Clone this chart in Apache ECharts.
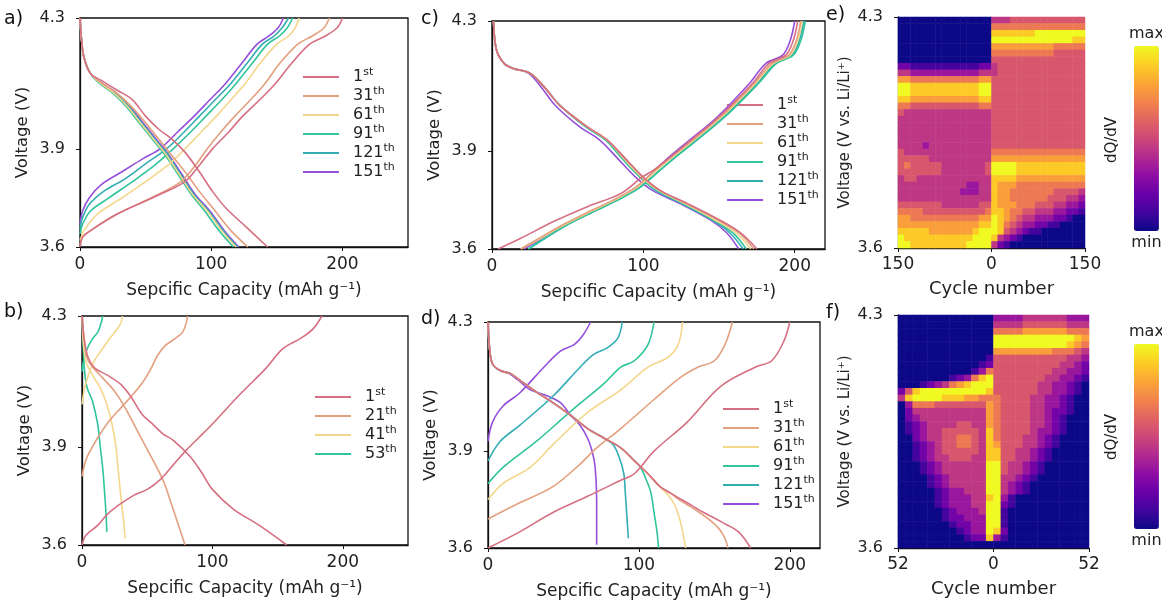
<!DOCTYPE html>
<html>
<head>
<meta charset="utf-8">
<script src="https://cdn.jsdelivr.net/npm/echarts@6/dist/echarts.min.js"></script>
<style>
html,body{margin:0;padding:0;background:#fff;}
#chart{width:1162px;height:601px;}
</style>
</head>
<body>
<div id="chart"></div>
<script>
const FONT = 'DejaVu Sans';

// ---------- colours per cycle ----------
const cycleColors = {
  '1st': '#d66f82', '21th': '#e3a07f', '31th': '#e3a07f',
  '41th': '#f4d68c', '61th': '#f4d68c',
  '53th': '#2fc49c', '91th': '#2fc49c',
  '121th': '#33adb4', '151th': '#954fda'
};

// ---------- panel a : [capacity, voltage] ----------
const aNames = ['1st','31th','61th','91th','121th','151th'];
const aCharge1   = [[0,3.6],[2,3.63],[8,3.65],[28,3.7],[55,3.75],[80,3.8],[91,3.85],[101,3.9],[113,3.95],[124,4.0],[137,4.05],[149,4.1],[161,4.16],[175,4.22],[187,4.245],[196,4.27],[200,4.3]];
const aCharge31  = [[0,3.605],[2,3.63],[8,3.65],[28,3.7],[54,3.75],[77,3.8],[88,3.85],[97,3.9],[107,3.95],[118,4.0],[130,4.05],[141,4.1],[152,4.16],[166,4.22],[177,4.245],[186,4.27],[190,4.3]];
const aCharge61  = [[0,3.62],[3,3.65],[13,3.7],[32,3.75],[50,3.8],[67,3.85],[80,3.9],[92,3.95],[104,4.0],[115,4.05],[126,4.1],[137,4.16],[150,4.22],[159,4.245],[164,4.27],[167,4.3]];
const aCharge91  = [[0,3.64],[2,3.67],[8,3.71],[22,3.75],[40,3.8],[57,3.85],[71,3.9],[84,3.95],[96,4.0],[108,4.05],[119,4.1],[131,4.16],[143,4.22],[152,4.245],[158,4.27],[162,4.3]];
const aCharge121 = [[0,3.655],[2,3.69],[7,3.73],[18,3.77],[35,3.81],[52,3.86],[66,3.9],[79,3.95],[91,4.0],[103,4.05],[115,4.1],[127,4.16],[139,4.22],[148,4.245],[154,4.27],[159,4.3]];
const aCharge151 = [[0,3.67],[2,3.71],[7,3.75],[16,3.79],[32,3.83],[48,3.87],[61,3.9],[74,3.95],[87,4.0],[99,4.05],[111,4.1],[123,4.16],[135,4.22],[144,4.245],[151,4.27],[155,4.3]];
const aDis1   = [[0,4.3],[1,4.24],[3,4.18],[8,4.13],[16,4.11],[28,4.08],[40,4.05],[50,4.0],[60,3.96],[70,3.93],[80,3.89],[91,3.83],[101,3.77],[111,3.72],[127,3.66],[143,3.6]];
const aDis31  = [[0,4.3],[1,4.24],[3,4.18],[8,4.13],[17,4.1],[28,4.07],[39,4.03],[50,3.98],[60,3.93],[70,3.88],[80,3.83],[91,3.77],[103,3.71],[115,3.65],[128,3.6]];
const aDis61  = [[0,4.3],[1,4.24],[3,4.18],[8,4.13],[16,4.1],[26,4.07],[36,4.03],[46,3.98],[56,3.93],[66,3.88],[76,3.82],[86,3.76],[97,3.71],[108,3.65],[119,3.6]];
const aDis91  = [[0,4.3],[1,4.24],[3,4.18],[8,4.13],[15,4.1],[25,4.07],[35,4.03],[45,3.98],[55,3.93],[65,3.88],[75,3.82],[85,3.76],[95,3.71],[106,3.65],[117,3.6]];
const aDis121 = [[0,4.3],[1,4.24],[3,4.18],[8,4.13],[16,4.1],[27,4.07],[37,4.03],[47,3.98],[57,3.93],[67,3.88],[77,3.82],[87,3.76],[98,3.71],[109,3.65],[120,3.6]];
const aDis151 = [[0,4.3],[1,4.24],[3,4.18],[8,4.13],[17,4.1],[28,4.07],[38,4.03],[48,3.98],[58,3.93],[68,3.88],[78,3.82],[88,3.76],[99,3.71],[110,3.65],[121,3.6]];

// ---------- panel b ----------
const bNames = ['1st','21th','41th','53th'];
const bCharge1  = [[0,3.6],[3,3.63],[12,3.66],[21,3.7],[39,3.75],[50,3.77],[60,3.8],[70,3.845],[80,3.89],[90,3.93],[100,3.97],[121,4.06],[141,4.14],[154,4.2],[167,4.23],[177,4.26],[184,4.3]];
const bCharge21 = [[0,3.81],[3,3.86],[8,3.9],[14,3.94],[21,3.98],[30,4.02],[39,4.06],[47,4.1],[53,4.14],[58,4.18],[64,4.21],[71,4.23],[77,4.25],[80,4.28],[81,4.3]];
const bCharge41 = [[0,4.03],[2,4.08],[5,4.12],[9,4.16],[14,4.19],[21,4.23],[27,4.26],[30,4.28],[31,4.3]];
const bCharge53 = [[0,4.13],[1,4.16],[4,4.2],[8,4.23],[12,4.25],[14,4.27],[16,4.3]];
const bDis1  = [[0,4.3],[2,4.22],[5,4.17],[10,4.14],[19,4.12],[30,4.09],[38,4.05],[46,4.0],[54,3.97],[62,3.94],[70,3.92],[83,3.87],[92,3.82],[100,3.77],[116,3.71],[136,3.66],[157,3.6]];
const bDis21 = [[0,4.3],[2,4.22],[4,4.17],[9,4.14],[16,4.11],[25,4.07],[33,4.02],[41,3.96],[49,3.9],[57,3.84],[63,3.79],[69,3.72],[74,3.66],[79,3.6]];
const bDis41 = [[0,4.3],[1,4.22],[3,4.16],[8,4.12],[14,4.08],[19,4.03],[23,3.97],[26,3.9],[28,3.82],[30,3.74],[32,3.67],[33,3.62]];
const bDis53 = [[0,4.3],[1,4.2],[2,4.13],[4,4.08],[8,4.04],[12,3.97],[14,3.9],[16,3.83],[17.5,3.75],[18.5,3.69],[19,3.64]];

// ---------- panel c ----------
const cNames = ['1st','31th','61th','91th','121th','151th'];
const cCharge1   = [[4,3.6],[19,3.633],[41,3.685],[63,3.73],[85,3.77],[99,3.82],[107,3.843],[129,3.925],[150,4.006],[172,4.108],[183,4.17],[194,4.195],[199,4.24],[202,4.3]];
const cCharge31  = [[19,3.6],[30,3.63],[45,3.67],[62,3.71],[80,3.75],[95,3.79],[105,3.83],[115,3.87],[130,3.925],[151,4.006],[173,4.108],[185,4.17],[196,4.195],[201,4.24],[204,4.3]];
const cCharge61  = [[19,3.6],[31,3.63],[46,3.67],[63,3.71],[81,3.75],[96,3.79],[106,3.83],[116,3.87],[131,3.925],[152,4.006],[174,4.108],[186,4.17],[197,4.195],[202,4.24],[205,4.3]];
const cCharge91  = [[24,3.6],[34,3.63],[48,3.67],[65,3.71],[83,3.75],[98,3.79],[108,3.83],[118,3.87],[133,3.925],[154,4.006],[176,4.108],[188,4.17],[199,4.195],[204,4.24],[207,4.3]];
const cCharge121 = [[24,3.6],[34,3.63],[48,3.67],[65,3.71],[83,3.75],[98,3.79],[108,3.83],[118,3.87],[132,3.925],[153,4.006],[175,4.108],[187,4.17],[198,4.195],[203,4.24],[206,4.3]];
const cCharge151 = [[21,3.6],[32,3.63],[46,3.67],[63,3.71],[81,3.75],[96,3.79],[105,3.83],[114,3.87],[128,3.925],[149,4.006],[170,4.108],[181,4.17],[192,4.195],[197,4.24],[200,4.3]];
const cDis1   = [[1,4.3],[3,4.21],[8,4.17],[14,4.154],[25,4.14],[34,4.1],[45,4.04],[63,3.975],[76,3.935],[89,3.873],[100,3.82],[111,3.78],[129,3.74],[150,3.69],[164,3.65],[175,3.6]];
const cDis31  = [[1,4.3],[3,4.21],[8,4.17],[14,4.154],[25,4.14],[34,4.1],[45,4.04],[63,3.975],[76,3.935],[89,3.873],[100,3.82],[111,3.78],[128,3.74],[149,3.69],[163,3.65],[173,3.6]];
const cDis61  = [[1,4.3],[3,4.21],[8,4.17],[14,4.154],[25,4.14],[34,4.1],[45,4.04],[63,3.975],[76,3.935],[88,3.873],[99,3.82],[110,3.78],[127,3.74],[147,3.69],[161,3.65],[171,3.6]];
const cDis91  = [[1,4.3],[3,4.21],[8,4.17],[14,4.154],[25,4.14],[34,4.1],[45,4.04],[62,3.975],[75,3.935],[87,3.873],[98,3.82],[109,3.78],[126,3.74],[146,3.69],[159,3.65],[168,3.6]];
const cDis121 = [[1,4.3],[3,4.21],[8,4.17],[14,4.154],[25,4.14],[34,4.1],[45,4.04],[62,3.975],[75,3.935],[87,3.873],[98,3.82],[108,3.78],[125,3.74],[145,3.69],[157,3.65],[166,3.6]];
const cDis151 = [[1,4.3],[3,4.21],[8,4.17],[14,4.154],[24,4.14],[32,4.1],[42,4.04],[58,3.975],[71,3.935],[84,3.873],[95,3.82],[106,3.78],[124,3.74],[144,3.69],[155,3.65],[163,3.6]];

// ---------- panel d ----------
const dNames = ['1st','31th','61th','91th','121th','151th'];
const dCharge1   = [[0,3.6],[21,3.65],[43,3.71],[66,3.76],[88,3.81],[97,3.83],[110,3.9],[132,3.99],[154,4.1],[177,4.16],[188,4.18],[196,4.24],[200,4.3]];
const dCharge31  = [[0,3.69],[21,3.74],[43,3.79],[61,3.86],[72,3.91],[88,3.97],[110,4.06],[128,4.13],[139,4.16],[150,4.18],[157,4.23],[162,4.3]];
const dCharge61  = [[0,3.75],[10,3.8],[28,3.85],[43,3.92],[66,4.02],[88,4.09],[106,4.16],[119,4.19],[126,4.23],[129,4.3]];
const dCharge91  = [[0,3.8],[10,3.85],[32,3.93],[54,4.02],[77,4.11],[88,4.16],[97,4.18],[106,4.23],[110,4.3]];
const dCharge121 = [[0,3.87],[8,3.93],[21,3.98],[43,4.07],[61,4.16],[70,4.2],[79,4.22],[86,4.25],[89,4.3]];
const dCharge151 = [[0,3.93],[3,3.99],[10,4.04],[21,4.08],[37,4.16],[48,4.21],[57,4.23],[63,4.26],[68,4.3]];
const dDis1   = [[0,4.3],[1,4.22],[3,4.17],[8,4.15],[15,4.14],[21,4.12],[30,4.09],[43,4.05],[55,4.01],[66,3.97],[77,3.94],[88,3.91],[97,3.87],[106,3.83],[114,3.79],[121,3.77],[132,3.74],[143,3.71],[155,3.68],[166,3.65],[174,3.6]];
const dDis31  = [[0,4.3],[1,4.22],[3,4.17],[8,4.15],[15,4.14],[21,4.12],[30,4.09],[43,4.05],[55,4.01],[66,3.97],[77,3.94],[88,3.91],[97,3.87],[106,3.83],[114,3.79],[121,3.77],[128,3.745],[137,3.72],[146,3.69],[153,3.66],[157,3.63],[159,3.6]];
const dDis61  = [[0,4.3],[1,4.22],[3,4.17],[8,4.15],[15,4.14],[21,4.12],[30,4.09],[43,4.05],[55,4.01],[66,3.97],[77,3.94],[88,3.91],[97,3.87],[106,3.83],[114,3.79],[120,3.76],[124,3.73],[127,3.69],[129,3.65],[131,3.6]];
const dDis91  = [[0,4.3],[1,4.22],[3,4.17],[8,4.15],[15,4.14],[21,4.12],[30,4.09],[43,4.05],[55,4.01],[66,3.97],[77,3.94],[88,3.91],[96,3.875],[101,3.85],[105,3.81],[108,3.77],[110,3.71],[112,3.65],[113,3.6]];
const dDis121 = [[0,4.3],[1,4.22],[3,4.17],[8,4.15],[15,4.14],[21,4.12],[30,4.09],[43,4.05],[55,4.01],[66,3.97],[77,3.94],[83,3.92],[87,3.88],[90,3.83],[91,3.77],[92,3.7],[93,3.63]];
const dDis151 = [[0,4.3],[1,4.22],[3,4.17],[8,4.15],[14,4.14],[20,4.12],[28,4.09],[40,4.07],[48,4.05],[55,4.01],[61,3.98],[66,3.94],[69,3.9],[71,3.85],[72,3.75],[72,3.61]];

// ---------- panel e heatmap (dQ/dV, 0=min .. 9=max); rows top(4.3V) -> bottom(3.6V);
// first 15 columns: discharge, cycle 150 -> 0 ; last 15: charge, cycle 0 -> 150
const eRows = [
  '000000000000000'+'444555555555555',
  '000000000000000'+'666666666666666',
  '000000000000000'+'888888899999999',
  '000000000000000'+'999999999999988',
  '000000000000000'+'777777777766666',
  '000000000000000'+'666666666655555',
  '000000000000000'+'555555555555555',
  '221111111111122'+'455555555555555',
  '443333333333344'+'455555555555555',
  '776666666666677'+'555555555555555',
  '998888888888899'+'555555555555555',
  '998888888888899'+'555555555555555',
  '887777777777788'+'555555555555555',
  '665555555555566'+'555555555555555',
  '544444444444444'+'555555555555555',
  '444444444444444'+'555555555555555',
  '444444444444444'+'555555555555555',
  '444444444444444'+'555555555555555',
  '444444444444444'+'555555555555555',
  '444434444444444'+'555555555555555',
  '544444444444444'+'666666666666666',
  '555554444444444'+'777777777777777',
  '565555544444445'+'999988888888888',
  '555555544444445'+'999988888888888',
  '455444444444444'+'888877777777777',
  '444444444443344'+'877766666666666',
  '444444444433344'+'877666666655554',
  '444444444444444'+'877666666555443',
  '555555544444455'+'877766655544332',
  '666655555555556'+'887665544433221',
  '776666666666677'+'987654433322100',
  '777777777777788'+'986543322110000',
  '888887777777899'+'985432110000000',
  '988888888888999'+'843210000000000',
  '998888888889999'+'421000000000000'
];

// ---------- panel f heatmap; first 13 columns: cycle 52 -> 0 ; last 13: 0 -> 52
const fRows = [
  '0000000000000'+'3333444444333',
  '0000000000000'+'4444555555444',
  '0000000000000'+'6666777777666',
  '0000000000000'+'9999999999987',
  '0000000000000'+'9999999999876',
  '0000000000000'+'7777777766654',
  '0000000000001'+'5555555555443',
  '0000000000012'+'5555555554432',
  '0000000000136'+'5555555544332',
  '0000000123689'+'5555555443321',
  '0001234678999'+'5555554433210',
  '2589999999998'+'5555554433210',
  '4899998887766'+'6555544332100',
  '0366655555557'+'6555544332100',
  '0244444444447'+'6555544322100',
  '0234444444447'+'6555544321000',
  '0123444455447'+'6555544321000',
  '0123445555548'+'6555543321000',
  '0023445566548'+'6555443210000',
  '0012345566548'+'7555443210000',
  '0012345555548'+'8554432100000',
  '0012344555448'+'8554432100000',
  '0001234444449'+'9544321000000',
  '0001234444449'+'9544321000000',
  '0000123444449'+'9443210000000',
  '0000123444449'+'9432100000000',
  '0000012334449'+'9432100000000',
  '0000012333448'+'9310000000000',
  '0000012333449'+'9210000000000',
  '0000001233349'+'9100000000000',
  '0000001223339'+'9100000000000',
  '0000000122339'+'9100000000000',
  '0000000012339'+'8200000000000',
  '0000000001228'+'3100000000000',
  '0000000000000'+'0000000000000'
];

const voltTicks = [3.6, 3.9, 4.3];
const voltTicksHeat = [3.6, 4.3];
const capTicks = [0, 100, 200];
const eCycleTicks = [-150, 0, 150];
const fCycleTicks = [-52, 0, 52];
const plasma = ['#0d0887','#41049d','#6a00a8','#8f0da4','#b12a90','#cc4778','#e16462','#f2844b','#fca636','#fcce25','#f0f921'];

// ---------- build ----------
const chart = echarts.init(document.getElementById('chart'));

const grids = [
  {left: 80,  top: 18,  width: 328, height: 229},   // a
  {left: 82,  top: 316, width: 326, height: 229},   // b
  {left: 492, top: 21,  width: 333, height: 228},   // c
  {left: 488, top: 322, width: 332, height: 227},   // d
  {left: 898, top: 17,  width: 187, height: 231},   // e
  {left: 898, top: 315, width: 191, height: 233}    // f
].map((g, i) => Object.assign({
  show: i < 4, borderColor: '#111', borderWidth: 1.3, backgroundColor: 'transparent'
}, g));

const axisText = {fontSize: 16, color: '#222', fontFamily: FONT};
const lineAxisStyle = {show: true, lineStyle: {color: '#111', width: 1.3}};

function capAxis(gi, max) {
  return {
    type: 'value', gridIndex: gi, min: 0, max: max,
    axisLine: lineAxisStyle,
    axisTick: {show: true, length: 4, customValues: capTicks, lineStyle: {color: '#111'}},
    axisLabel: Object.assign({}, axisText, {customValues: capTicks, margin: 9, fontSize: 17}),
    splitLine: {show: false},
    name: 'Sepcific Capacity (mAh g\u207B\u00B9)', nameLocation: 'middle', nameGap: 35,
    nameTextStyle: {fontSize: 17, color: '#222', fontFamily: FONT}
  };
}
function voltAxis(gi) {
  return {
    type: 'value', gridIndex: gi, min: 3.6, max: 4.3,
    axisLine: lineAxisStyle,
    axisTick: {show: true, length: 4, customValues: voltTicks, lineStyle: {color: '#111'}},
    axisLabel: Object.assign({customValues: voltTicks, margin: 15, formatter: v => v.toFixed(1)}, axisText),
    splitLine: {show: false},
    name: 'Voltage (V)', nameLocation: 'middle', nameGap: 49,
    nameTextStyle: {fontSize: 16.5, color: '#222', fontFamily: FONT}
  };
}

const xAxes = [capAxis(0, 250), capAxis(1, 250), capAxis(2, 220), capAxis(3, 220)];
const yAxes = [voltAxis(0), voltAxis(1), voltAxis(2), voltAxis(3)];

function heatAxes(gi, nCols, cycleTicks) {
  const lim = Math.abs(cycleTicks[0]);
  xAxes.push({type: 'category', gridIndex: gi, data: Array.from({length: nCols}, (_, i) => String(i)), show: false});
  xAxes.push({
    type: 'value', gridIndex: gi, min: -lim, max: lim, position: 'bottom',
    axisLine: lineAxisStyle,
    axisTick: {show: true, length: 4, customValues: cycleTicks, lineStyle: {color: '#111'}},
    axisLabel: Object.assign({}, axisText, {customValues: cycleTicks, margin: 8, fontSize: 17, formatter: v => String(Math.abs(v))}),
    splitLine: {show: false},
    name: 'Cycle number', nameLocation: 'middle', nameGap: 32,
    nameTextStyle: {fontSize: 18, color: '#222', fontFamily: FONT}
  });
  yAxes.push({type: 'category', gridIndex: gi, data: Array.from({length: 35}, (_, i) => String(i)), show: false});
  yAxes.push({
    type: 'value', gridIndex: gi, min: 3.6, max: 4.3, position: 'left',
    axisLine: lineAxisStyle,
    axisTick: {show: true, length: 4, customValues: voltTicksHeat, lineStyle: {color: '#111'}},
    axisLabel: Object.assign({customValues: voltTicksHeat, margin: 15, formatter: v => v.toFixed(1)}, axisText),
    splitLine: {show: false},
    name: 'Voltage (V vs. Li/Li\u207A)', nameLocation: 'middle', nameGap: 45,
    nameTextStyle: {fontSize: 15, color: '#222', fontFamily: FONT}
  });
}
heatAxes(4, 30, eCycleTicks);   // x 4,5 / y 4,5
heatAxes(5, 26, fCycleTicks);   // x 6,7 / y 6,7

const series = [];
function addCurves(axisIdx, names, charges, discharges) {
  names.forEach((n, k) => {
    [charges[k], discharges[k]].forEach(d => {
      series.push({
        type: 'line', name: n, xAxisIndex: axisIdx, yAxisIndex: axisIdx,
        data: d, smooth: 0.35, symbol: 'none', silent: true,
        lineStyle: {width: 1.6, color: cycleColors[n]}, itemStyle: {color: cycleColors[n]},
        z: 10 - k
      });
    });
  });
}
addCurves(0, aNames, [aCharge1,aCharge31,aCharge61,aCharge91,aCharge121,aCharge151], [aDis1,aDis31,aDis61,aDis91,aDis121,aDis151]);
addCurves(1, bNames, [bCharge1,bCharge21,bCharge41,bCharge53], [bDis1,bDis21,bDis41,bDis53]);
addCurves(2, cNames, [cCharge1,cCharge31,cCharge61,cCharge91,cCharge121,cCharge151], [cDis1,cDis31,cDis61,cDis91,cDis121,cDis151]);
addCurves(3, dNames, [dCharge1,dCharge31,dCharge61,dCharge91,dCharge121,dCharge151], [dDis1,dDis31,dDis61,dDis91,dDis121,dDis151]);

function heatData(rows) {
  const out = [];
  rows.forEach((row, r) => {
    for (let c = 0; c < row.length; c++) out.push([c, rows.length - 1 - r, Number(row[c])]);
  });
  return out;
}
const eIdx = series.length;
series.push({type: 'heatmap', xAxisIndex: 4, yAxisIndex: 4, data: heatData(eRows), progressive: 0, emphasis: {disabled: true}, silent: true});
const fIdx = series.length;
series.push({type: 'heatmap', xAxisIndex: 6, yAxisIndex: 6, data: heatData(fRows), progressive: 0, emphasis: {disabled: true}, silent: true});

function legend(left, top, names) {
  return {
    show: true, orient: 'vertical', left: left, top: top, data: names,
    icon: 'rect', itemWidth: 36, itemHeight: 2, itemGap: 1, selectedMode: false, padding: 0,
    itemStyle: {borderWidth: 0},
    formatter: name => { const m = name.match(/^(\d+)(\D+)$/); return '{n|' + m[1] + '}{s|' + m[2] + '}'; },
    textStyle: {
      rich: {
        n: {fontSize: 16, lineHeight: 20, color: '#222', fontFamily: FONT, padding: [0, 0, 0, 9]},
        s: {fontSize: 11, lineHeight: 12, verticalAlign: 'top', color: '#222', fontFamily: FONT}
      }
    }
  };
}

function colorBar(idx, top) {
  return {
    type: 'continuous', seriesIndex: idx, min: 0, max: 9, calculable: false,
    orient: 'vertical', left: 1129, top: top, itemWidth: 25, itemHeight: 185,
    text: ['max', 'min'], textGap: 4, padding: 0,
    inRange: {color: plasma},
    textStyle: {fontSize: 16, color: '#222', fontFamily: FONT}
  };
}

function label(text, left, top) {
  return {type: 'text', left: left, top: top, style: {text: text, font: '19px "DejaVu Sans"', fill: '#111'}};
}
function dqdv(y) {
  return {type: 'text', x: 1112, y: y, rotation: Math.PI / 2,
    style: {text: 'dQ/dV', font: '15px "DejaVu Sans"', fill: '#222', align: 'center', verticalAlign: 'middle', textAlign: 'center', textVerticalAlign: 'middle'}};
}

chart.setOption({
  animation: false,
  backgroundColor: '#fff',
  grid: grids,
  xAxis: xAxes,
  yAxis: yAxes,
  series: series,
  legend: [
    legend(303, 67, aNames),
    legend(315, 387, bNames),
    legend(727, 95, cNames),
    legend(723, 399, dNames)
  ],
  visualMap: [colorBar(eIdx, 26), colorBar(fIdx, 324)],
  graphic: [
    label('a)', 4, 10), label('b)', 4, 303), label('c)', 421, 10), label('d)', 421, 310),
    label('e)', 826, 6), label('f)', 826, 304),
    dqdv(140), dqdv(437)
  ]
});
</script>
</body>
</html>
